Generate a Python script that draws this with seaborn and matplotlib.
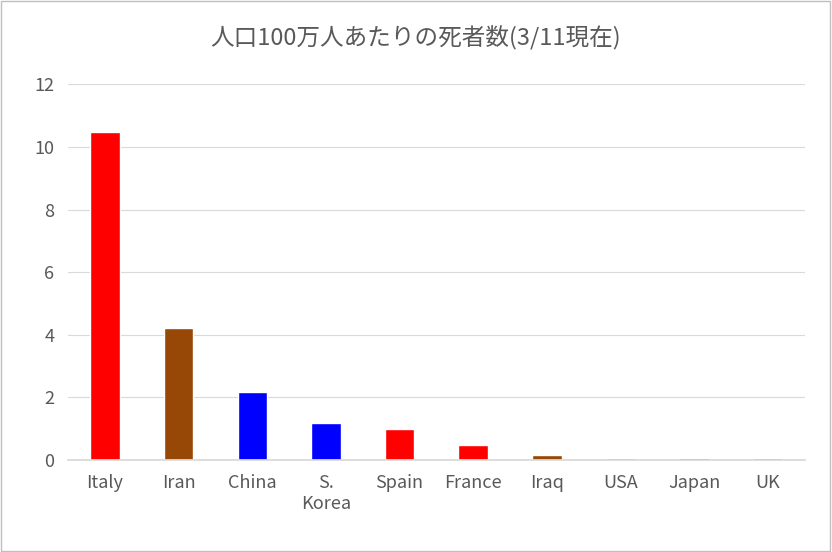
import matplotlib
matplotlib.use("Agg")
import matplotlib.pyplot as plt
import seaborn as sns
import pandas as pd

categories = ["Italy", "Iran", "China", "S.\nKorea", "Spain", "France", "Iraq", "USA", "Japan", "UK"]
values = [10.47, 4.23, 2.17, 1.18, 0.99, 0.48, 0.16, 0.06, 0.06, 0.06]
colors = ["#FF0000", "#974706", "#0000FF", "#0000FF", "#FF0000", "#FF0000", "#974706", "#00B050", "#0000FF", "#FF0000"]

sns.set_theme(style="white")
plt.rcParams['font.family'] = ['Noto Sans CJK JP', 'DejaVu Sans']

df = pd.DataFrame({"c": categories, "v": values})
fig = plt.figure(figsize=(8.32, 5.52), dpi=100)
ax = fig.add_axes([0.082, 0.167, 0.885, 0.68])
sns.barplot(data=df, x="c", y="v", hue="c", palette=colors, legend=False, width=0.4, ax=ax, saturation=1)
ax.set_ylim(0, 12)
ax.set_yticks(range(0, 13, 2))
ax.yaxis.grid(True, color="#D9D9D9", linewidth=0.8)
ax.set_axisbelow(True)
for s in ["top", "right", "left"]:
    ax.spines[s].set_visible(False)
ax.spines["bottom"].set_color("#D9D9D9")
ax.set_xlabel("")
ax.set_ylabel("")
ax.tick_params(axis="both", labelsize=13, colors="#595959", length=0, pad=10)
ax.set_xlim(-0.5, 9.5)
fig.text(0.5, 0.93, "人口100万人あたりの死者数(3/11現在)", ha="center", va="center", fontsize=17, color="#595959")
fig.patches.append(plt.Rectangle((0.001, 0.001), 0.997, 0.997, transform=fig.transFigure, fill=False, edgecolor="#BFBFBF", linewidth=1))
fig.savefig("out.png", dpi=100)
